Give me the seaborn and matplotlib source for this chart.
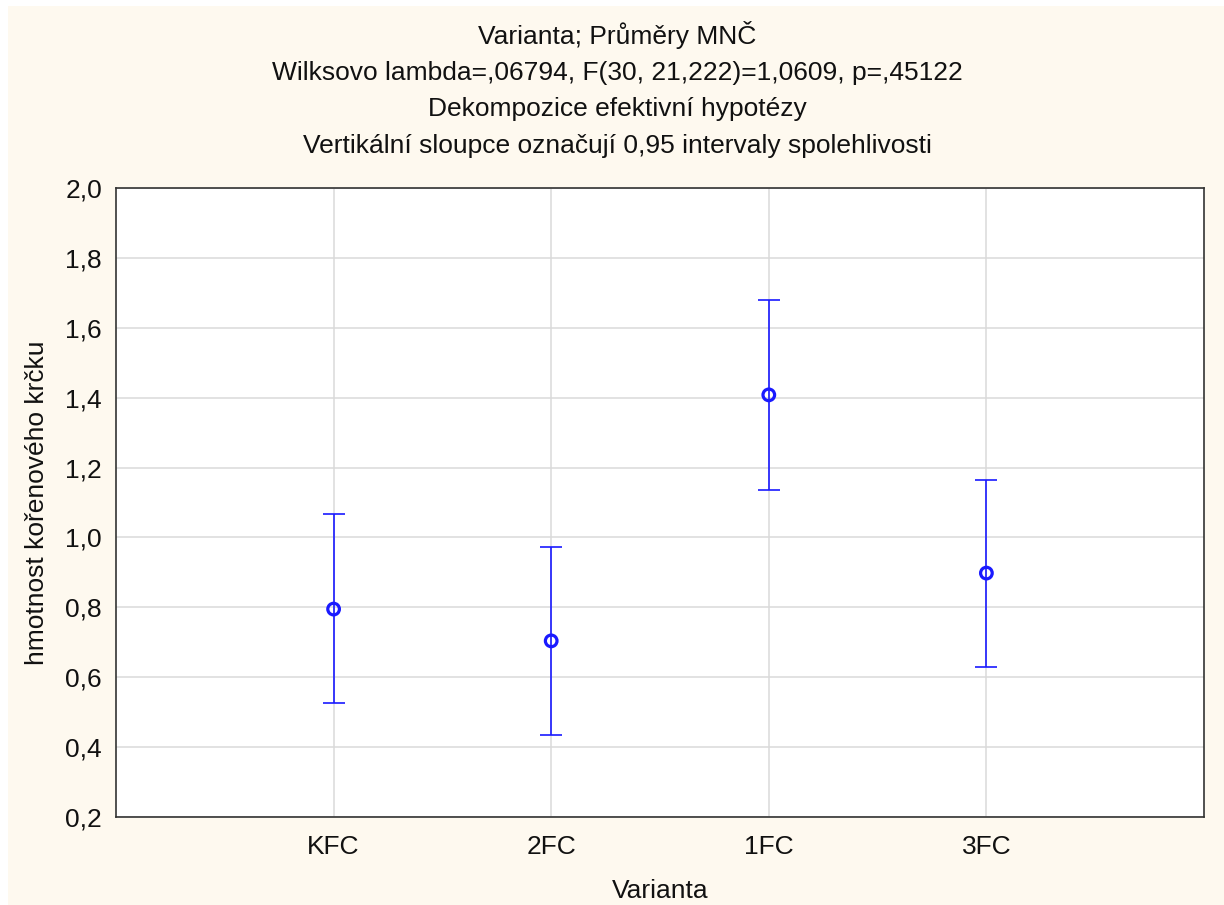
import matplotlib
matplotlib.use("Agg")
import matplotlib.pyplot as plt
import matplotlib.patches as patches
from matplotlib.ticker import FuncFormatter, MultipleLocator
import numpy as np
import pandas as pd
import seaborn as sns

# Data
varianta = ["KFC", "2FC", "1FC", "3FC"]
prumer = [0.795, 0.704, 1.408, 0.898]
ci_lower = [0.526, 0.435, 1.136, 0.629]
ci_upper = [1.067, 0.973, 1.680, 1.165]

title_lines = [
    "Varianta; Průměry MNČ",
    "Wilksovo lambda=,06794, F(30, 21,222)=1,0609, p=,45122",
    "Dekompozice efektivní hypotézy",
    "Vertikální sloupce označují 0,95 intervaly spolehlivosti",
]
title_y = [35, 73, 109, 146]

df = pd.DataFrame({"Varianta": varianta, "mean": prumer,
                   "lo": ci_lower, "hi": ci_upper})
df["pos"] = np.arange(len(df))

sns.set_style("white")
plt.rcParams["font.family"] = ["Liberation Sans", "DejaVu Sans"]

BLUE = "#1a1aff"
FS = 19
fig = plt.figure(figsize=(12.24, 9.05), dpi=100, facecolor="white")
fig.patches.append(patches.Rectangle((8 / 1224, 0), 1, 1 - 6 / 905,
                                     transform=fig.transFigure,
                                     facecolor="#fef9ef", edgecolor="none",
                                     zorder=-10))

ax = fig.add_axes([116 / 1224, 1 - 817 / 905, (1204 - 116) / 1224, (817 - 188) / 905])
ax.set_facecolor("white")

# confidence intervals
ax.errorbar(df["pos"], df["mean"],
            yerr=[df["mean"] - df["lo"], df["hi"] - df["mean"]],
            fmt="none", ecolor=BLUE, elinewidth=1.2, capsize=8, capthick=1.2,
            zorder=3)
sns.scatterplot(data=df, x="pos", y="mean", ax=ax, s=70, marker="o",
                facecolor="none", edgecolor=BLUE, linewidth=2.3, zorder=4,
                legend=False)

ax.set_xlim(-1, 4)
ax.set_ylim(0.2, 2.0)
ax.set_xticks(df["pos"])
ax.set_xticklabels(varianta)
ax.yaxis.set_major_locator(MultipleLocator(0.2))
ax.yaxis.set_major_formatter(FuncFormatter(lambda v, p: f"{v:.1f}".replace(".", ",")))
ax.grid(True, color="#dadada", linewidth=1.1)
ax.set_axisbelow(True)
for s in ax.spines.values():
    s.set_color("#333333")
    s.set_linewidth(1.2)
ax.tick_params(axis="both", direction="in", length=4, width=1, color="#333333",
               labelsize=FS, labelcolor="#111111", pad=10)
ax.tick_params(axis="x", pad=13)
ax.set_xlabel("Varianta", fontsize=FS, color="#111111", labelpad=14)
ax.set_ylabel("hmotnost kořenového krčku", fontsize=FS, color="#111111", labelpad=12)

for line, y in zip(title_lines, title_y):
    fig.text(617 / 1224, 1 - y / 905, line, ha="center", va="center",
             fontsize=FS, color="#111111")

fig.savefig("out.png", dpi=100, facecolor=fig.get_facecolor())
